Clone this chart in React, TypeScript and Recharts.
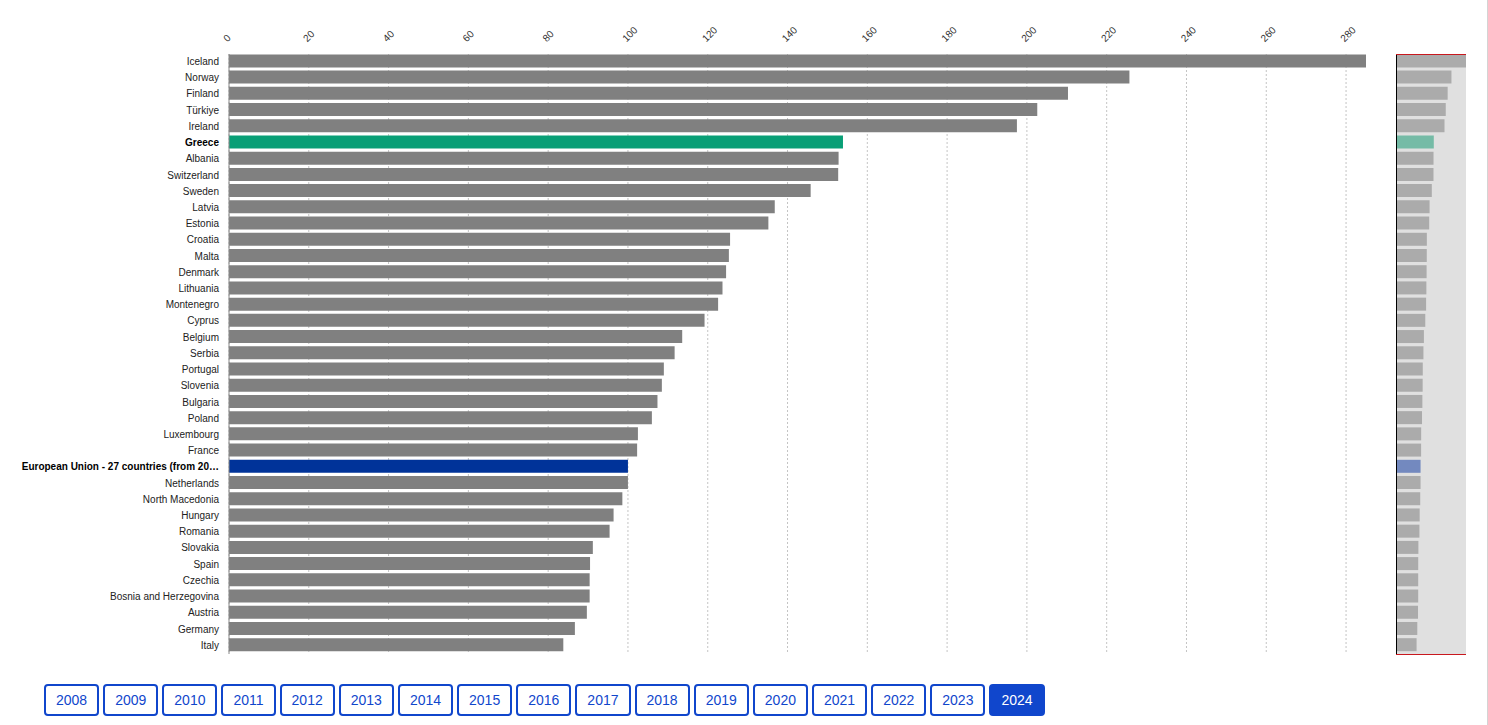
import React from "react";
import { BarChart, Bar, XAxis, YAxis, CartesianGrid, Cell } from "recharts";

const countries = ["Iceland","Norway","Finland","Türkiye","Ireland","Greece","Albania","Switzerland","Sweden","Latvia","Estonia","Croatia","Malta","Denmark","Lithuania","Montenegro","Cyprus","Belgium","Serbia","Portugal","Slovenia","Bulgaria","Poland","Luxembourg","France","European Union - 27 countries (from 2020)","Netherlands","North Macedonia","Hungary","Romania","Slovakia","Spain","Czechia","Bosnia and Herzegovina","Austria","Germany","Italy"];
const values = [285,225.7,210.3,202.6,197.5,153.9,152.8,152.7,145.8,136.8,135.2,125.6,125.3,124.6,123.7,122.6,119.2,113.6,111.7,109,108.5,107.4,106,102.5,102.3,100,100,98.6,96.4,95.4,91.2,90.5,90.4,90.4,89.7,86.7,83.8];
const xTicks = [0,20,40,60,80,100,120,140,160,180,200,220,240,260,280];
const years = [2008,2009,2010,2011,2012,2013,2014,2015,2016,2017,2018,2019,2020,2021,2022,2023,2024];
const activeYear = 2024;
const GREECE = "Greece";
const EU = "European Union - 27 countries (from 2020)";

const data = countries.map((name, i) => ({ name, value: values[i] }));
const FONT = '"Liberation Sans", Arial, sans-serif';
const BLUE = "#1046cc";

const mainColor = (n: string) => (n === GREECE ? "#089f76" : n === EU ? "#003399" : "#808080");
const miniColor = (n: string) => (n === GREECE ? "#75bba6" : n === EU ? "#7389bf" : "#ababab");
const short = (s: string) => (s.length > 39 ? s.slice(0, 38) + "…" : s);

const XTick = (p: any) => (
  <text
    x={p.x - 1.5}
    y={42.5}
    transform={`rotate(-45 ${p.x - 1.5} 42.5)`}
    textAnchor="start"
    fontSize={10}
    fontFamily={FONT}
    fill="#333"
  >
    {p.payload.value}
  </text>
);

const YTick = (p: any) => {
  const v = p.payload.value as string;
  const bold = v === GREECE || v === EU;
  return (
    <text
      x={219}
      y={p.y + 4.5}
      textAnchor="end"
      fontSize={10}
      fontFamily={FONT}
      fontWeight={bold ? 700 : 400}
      fill={bold ? "#000" : "#222"}
    >
      {short(v)}
    </text>
  );
};

const abs = (left: number, top: number, width: number, height: number, background: string): React.CSSProperties => ({
  position: "absolute", left, top, width, height, background,
});

export default function App() {
  return (
    <div style={{ position: "absolute", left: 0, top: 0, width: 1488, height: 725, background: "#fff", overflow: "hidden" }}>
      <div style={{ position: "absolute", left: 0, top: 0 }}>
        <BarChart
          width={1488}
          height={725}
          data={data}
          layout="vertical"
          margin={{ top: 0, left: 0, right: 122, bottom: 71 }}
        >
          <CartesianGrid horizontal={false} vertical verticalValues={xTicks} stroke="#c4c4c4" strokeDasharray="2 2" />
          <XAxis
            type="number"
            orientation="top"
            domain={[0, 285]}
            ticks={xTicks}
            height={54}
            axisLine={false}
            tickLine={false}
            interval={0}
            tick={<XTick />}
          />
          <YAxis
            type="category"
            dataKey="name"
            width={229}
            interval={0}
            padding={{ top: -1.61, bottom: 1.6 }}
            axisLine={{ stroke: "#888" }}
            tickLine={false}
            tick={<YTick />}
          />
          <Bar dataKey="value" barSize={13} isAnimationActive={false}>
            {data.map((d) => (
              <Cell key={d.name} fill={mainColor(d.name)} />
            ))}
          </Bar>
        </BarChart>
      </div>

      <div style={abs(1396, 54, 70, 600, "#e0e0e0")} />
      <div style={{ position: "absolute", left: 1396, top: 54 }}>
        <BarChart
          width={70}
          height={600}
          data={data}
          layout="vertical"
          margin={{ top: 0, left: 0, right: 0, bottom: 0 }}
        >
          <XAxis type="number" hide domain={[0, 285]} />
          <YAxis type="category" dataKey="name" hide interval={0} padding={{ top: -1.61, bottom: 1.6 }} />
          <Bar dataKey="value" barSize={13} isAnimationActive={false}>
            {data.map((d) => (
              <Cell key={d.name} fill={miniColor(d.name)} />
            ))}
          </Bar>
        </BarChart>
      </div>
      <div style={abs(1396, 54, 1, 601, "#000")} />
      <div style={abs(1396, 54, 70, 1, "#c8181e")} />
      <div style={abs(1396, 654, 70, 1, "#c8181e")} />
      <div style={abs(1487, 0, 1, 725, "#d4d4d4")} />

      <div style={{ position: "absolute", left: 44, top: 684, display: "flex", gap: 4 }}>
        {years.map((y) => {
          const on = y === activeYear;
          return (
            <button
              key={y}
              style={{
                boxSizing: "border-box",
                height: 32,
                padding: "0 10px",
                margin: 0,
                border: `2px solid ${BLUE}`,
                borderRadius: 4,
                background: on ? BLUE : "#fff",
                color: on ? "#fff" : BLUE,
                fontFamily: FONT,
                fontSize: 14,
                lineHeight: "28px",
              }}
            >
              {y}
            </button>
          );
        })}
      </div>
    </div>
  );
}
